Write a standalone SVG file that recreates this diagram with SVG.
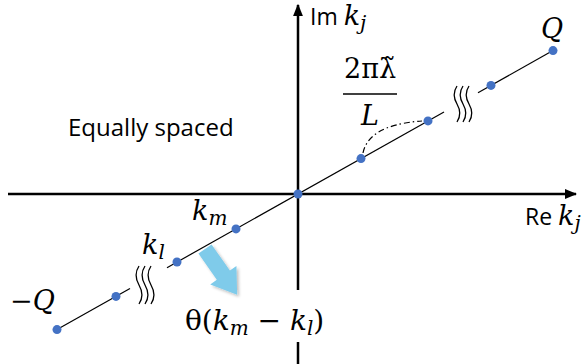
<svg xmlns="http://www.w3.org/2000/svg" width="582" height="364" viewBox="0 0 582 364">
<style>
.axis{stroke:#000;stroke-width:2.5;fill:none}
.ln{stroke:#000;stroke-width:1.2;fill:none}
.sq{stroke:#000;stroke-width:1.3;fill:none}
.dot{fill:#4472C4}
.sans{font-family:"Open Sans","Liberation Sans",sans-serif;font-size:23px;fill:#000}
.m{font-family:"DejaVu Serif","Liberation Serif",serif;font-size:27px;fill:#000}
.i{font-style:italic}
.sub{font-size:20px}
</style>
<defs>
<marker id="ah" viewBox="0 0 10 10" refX="9" refY="5" markerWidth="5" markerHeight="5" orient="auto" markerUnits="strokeWidth">
<path d="M0,1 L10,5 L0,9 z" fill="#000"/>
</marker>
<filter id="sh" x="-30%" y="-30%" width="160%" height="160%">
<feGaussianBlur in="SourceAlpha" stdDeviation="1.5"/>
<feOffset dx="2" dy="2" result="b"/>
<feComponentTransfer><feFuncA type="linear" slope="0.25"/></feComponentTransfer>
<feMerge><feMergeNode/><feMergeNode in="SourceGraphic"/></feMerge>
</filter>
</defs>
<g id="connectors">
<path class="axis" d="M8,194 H576" marker-end="url(#ah)"/>
<path class="axis" d="M298,290 V5" marker-end="url(#ah)"/>
<path class="axis" d="M298,342 V364"/>
<path class="ln" d="M167,267.7 L444,111.9"/>
<path class="ln" d="M478,92.8 L553,50.6"/>
<path class="ln" d="M130,288.5 L57,329.6"/>
<path class="ln" d="M363,153 C366,138 380,124 422,121" stroke-dasharray="6 3 1.5 3"/>
</g>
<g id="breaks">
<path class="sq" d="M457,86 c-4,6 -4,11 0,18 s4,12 0,18"/>
<path class="sq" d="M463,86 c-4,6 -4,11 0,18 s4,12 0,18"/>
<path class="sq" d="M469,86 c-4,6 -4,11 0,18 s4,12 0,18"/>
<path class="sq" d="M139,266 c-4,6 -4,12 0,19 s4,13 0,19"/>
<path class="sq" d="M145,266 c-4,6 -4,12 0,19 s4,13 0,19"/>
<path class="sq" d="M151,266 c-4,6 -4,12 0,19 s4,13 0,19"/>
</g>
<g id="points">
<circle class="dot" cx="298" cy="194" r="4.5"/>
<circle class="dot" cx="361" cy="158.6" r="4.5"/>
<circle class="dot" cx="428" cy="120.9" r="4.5"/>
<circle class="dot" cx="491" cy="85.4" r="4.5"/>
<circle class="dot" cx="553" cy="50.6" r="4.5"/>
<circle class="dot" cx="236" cy="228.9" r="4.5"/>
<circle class="dot" cx="177" cy="262" r="4.5"/>
<circle class="dot" cx="116" cy="296.4" r="4.5"/>
<circle class="dot" cx="57" cy="329.6" r="4.5"/>
</g>
<g id="arrow" filter="url(#sh)">
<path transform="translate(205,249) rotate(55)" d="M0,-8 H32 V-16 L56,0 L32,16 V8 H0 Z" fill="#7FCBEA"/>
</g>
<g id="labels">
<text x="310" y="25" class="sans">Im <tspan class="m i">k</tspan><tspan class="m i sub" dy="5">j</tspan></text>
<text x="525" y="225" class="sans">Re <tspan class="m i">k</tspan><tspan class="m i sub" dy="5">j</tspan></text>
<text x="68" y="136" class="sans" style="font-size:24px">Equally spaced</text>
<text x="541" y="38" class="m i">Q</text>
<text x="10" y="310" class="m">−<tspan class="i">Q</tspan></text>
<text x="192" y="220" class="m i">k<tspan class="sub" dy="5">m</tspan></text>
<text x="142" y="254" class="m i">k<tspan class="sub" dy="5">l</tspan></text>
<text x="185" y="330" class="m" style="font-size:28px">θ(<tspan class="i">k</tspan><tspan class="i sub" dy="5">m</tspan><tspan dy="-5"> − </tspan><tspan class="i">k</tspan><tspan class="i sub" dy="5">l</tspan><tspan dy="-5">)</tspan></text>
<text x="370" y="78" class="m" text-anchor="middle">2πλ̃</text>
<line x1="343" y1="94" x2="397" y2="94" stroke="#000" stroke-width="1.5"/>
<text x="370" y="125" class="m i" text-anchor="middle">L</text>
</g>
</svg>
